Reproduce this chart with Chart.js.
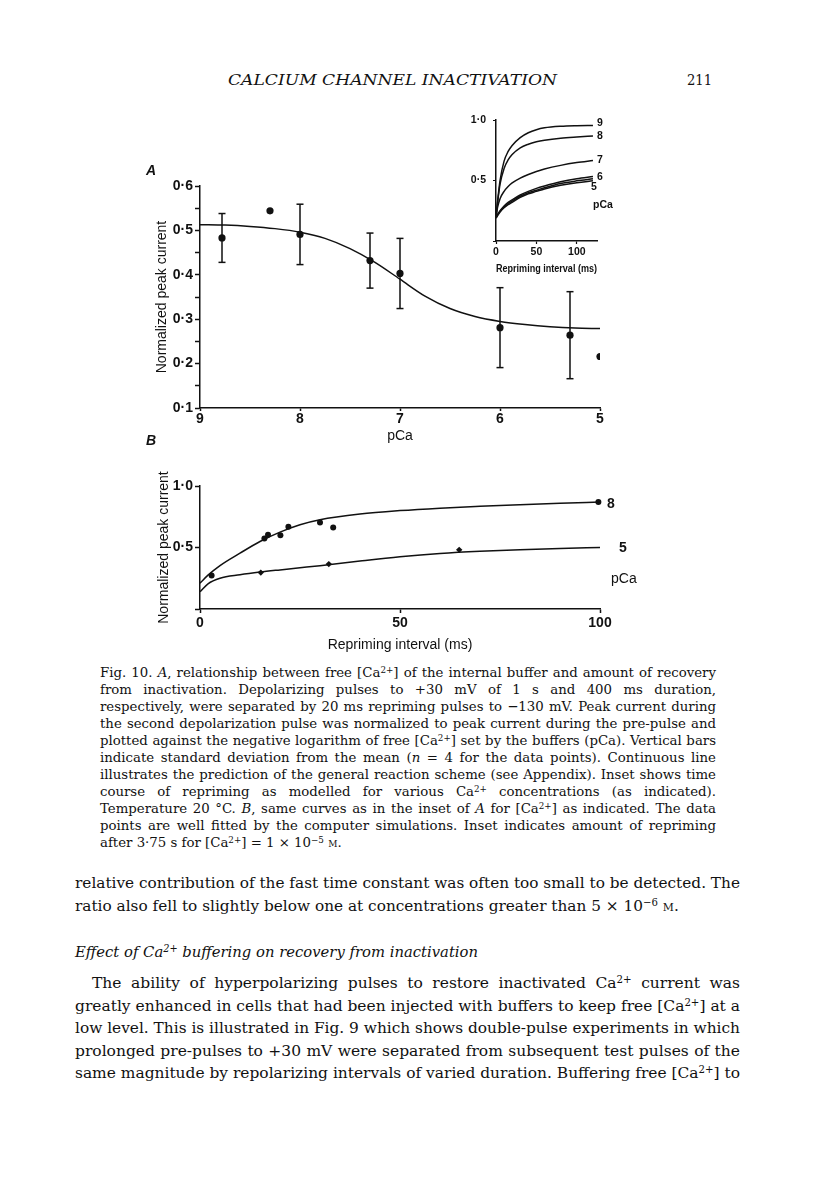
<!DOCTYPE html>
<html><head><meta charset="utf-8">
<script src="https://cdn.jsdelivr.net/npm/chart.js@4.4.1/dist/chart.umd.min.js"></script>
<style>
html,body{margin:0;padding:0;background:#fff;}
body{width:816px;height:1183px;position:relative;overflow:hidden;color:#111;}
canvas{position:absolute;}
.ln{position:absolute;white-space:nowrap;font-family:"DejaVu Serif",serif;transform-origin:0 50%;color:#111;}
sup{font-size:0.66em;vertical-align:0.5em;line-height:0;}
.sc{font-variant:small-caps;}
.lab{position:absolute;font-family:"Liberation Sans",Arial,sans-serif;white-space:nowrap;color:#111;}
</style></head><body>
<canvas id="cA" width="490" height="300" style="left:140px;top:150px"></canvas>
<canvas id="cI" width="170" height="180" style="left:460px;top:105px"></canvas>
<canvas id="cB" width="500" height="190" style="left:140px;top:470px"></canvas>
<script>
// ---------- Panel A data ----------
const aPca  = [8.78, 8.3, 8.0, 7.3, 7.0, 6.0, 5.3, 5.0];
const aMean = [0.483, 0.544, 0.491, 0.432, 0.403, 0.281, 0.264, 0.216];
const aSd   = [0.055, null, 0.068, 0.062, 0.079, 0.090, 0.098, null];
const fitPca = [9, 8.75, 8.5, 8.25, 8, 7.75, 7.5, 7.25, 7, 6.75, 6.5, 6.25, 6, 5.75, 5.5, 5.25, 5];
const fitA   = [0.513, 0.512, 0.509, 0.504, 0.496, 0.482, 0.459, 0.428, 0.390, 0.352, 0.324, 0.306, 0.295, 0.288, 0.283, 0.280, 0.279];
const aXTicks = [9, 8, 7, 6, 5];

// ---------- Inset data ----------
const insetT   = [0, 2, 5, 10, 15, 20, 30, 40, 50, 60, 80, 100, 120];
const inset9   = [0.20, 0.33, 0.50, 0.66, 0.74, 0.79, 0.855, 0.895, 0.92, 0.935, 0.948, 0.953, 0.955];
const inset8   = [0.20, 0.32, 0.47, 0.60, 0.67, 0.715, 0.77, 0.80, 0.82, 0.833, 0.85, 0.86, 0.868];
const inset7   = [0.20, 0.28, 0.35, 0.41, 0.45, 0.48, 0.52, 0.55, 0.575, 0.595, 0.625, 0.648, 0.665];
const inset6   = [0.19, 0.22, 0.25, 0.29, 0.32, 0.34, 0.38, 0.41, 0.435, 0.455, 0.49, 0.515, 0.533];
const inset55  = [0.19, 0.215, 0.245, 0.28, 0.31, 0.33, 0.37, 0.40, 0.42, 0.44, 0.475, 0.497, 0.514];
const inset5   = [0.19, 0.21, 0.24, 0.275, 0.30, 0.32, 0.36, 0.39, 0.41, 0.43, 0.46, 0.482, 0.497];
const insetLabels = ['9', '8', '7', '6', '5', 'pCa'];

// ---------- Panel B data ----------
const bT    = [0, 2, 5, 10, 15, 20, 25, 30, 40, 50, 60, 70, 80, 90, 100];
const bFit8 = [0.21, 0.275, 0.353, 0.454, 0.549, 0.625, 0.685, 0.726, 0.772, 0.80, 0.82, 0.835, 0.848, 0.86, 0.87];
const bFit5 = [0.14, 0.205, 0.25, 0.278, 0.30, 0.318, 0.335, 0.352, 0.39, 0.425, 0.452, 0.47, 0.482, 0.492, 0.50];
const b8T = [2.9, 16.1, 17.0, 20.1, 22.1, 30.0, 33.3, 99.6];
const b8V = [0.272, 0.573, 0.603, 0.600, 0.669, 0.704, 0.663, 0.870];
const b5T = [15.2, 32.2, 64.8];
const b5V = [0.296, 0.365, 0.481];
const bSqT = [102.5];
const bSqV = [0.533];

Chart.defaults.font.family = '"Liberation Sans", Arial, sans-serif';
Chart.defaults.color = '#111';
const INK = '#111';
const dot = v => (Math.round(v * 10) / 10).toFixed(1).replace('.', '\u00B7');
const pts = (xs, ys) => xs.map((x, i) => ({x, y: ys[i]}));
const curve = (xs, ys) => ({data: pts(xs, ys), showLine: true, pointRadius: 0, borderColor: INK, borderWidth: 1.5, cubicInterpolationMode: 'monotone', fill: false});
const baseOpts = (pad) => ({responsive: false, animation: false, devicePixelRatio: 1, layout: {padding: pad},
  plugins: {legend: {display: false}, tooltip: {enabled: false}}});

// error bars built from mean and sd
const errData = [];
aPca.forEach((x, i) => { if (aSd[i] != null) { errData.push({x, y: aMean[i] - aSd[i]}, {x, y: aMean[i] + aSd[i]}, {x, y: null}); } });

// ---------- Chart A ----------
new Chart(document.getElementById('cA'), {
  type: 'scatter',
  data: {datasets: [
    curve(fitPca, fitA),
    {data: errData, showLine: true, spanGaps: false, pointStyle: 'line', pointRadius: 3.5, pointBorderWidth: 1.5, pointBorderColor: INK, borderColor: INK, borderWidth: 1.5},
    {data: pts(aPca, aMean), pointRadius: 3.6, pointBackgroundColor: INK, pointBorderColor: INK, pointBorderWidth: 0}
  ]},
  options: Object.assign(baseOpts({top: 36, right: 30, left: 0, bottom: 0}), {
    scales: {
      x: {type: 'linear', min: 5, max: 9, reverse: true, afterFit: s => { s.height = 42; },
        afterBuildTicks: s => { s.ticks = aXTicks.map(v => ({value: v})); },
        ticks: {padding: 0, font: {size: 14, weight: 'bold'}, color: INK, autoSkip: false, maxRotation: 0, callback: v => String(v)},
        grid: {drawOnChartArea: false, tickLength: 3, tickColor: INK, tickWidth: 1.5},
        border: {color: INK, width: 1.5},
        title: {display: true, text: 'pCa', font: {size: 14}, color: INK, padding: {top: 0, bottom: 5}}},
      y: {type: 'linear', min: 0.1, max: 0.6, afterFit: s => { s.width = 60; },
        ticks: {stepSize: 0.05, padding: 2, autoSkip: false, font: {size: 14, weight: 'bold'}, color: INK,
          callback: v => (Math.round(v * 100) % 10 === 0 ? dot(v) : '')},
        grid: {drawOnChartArea: false, tickLength: 5, tickColor: INK, tickWidth: 1.5},
        border: {color: INK, width: 1.5},
        title: {display: true, text: 'Normalized peak current', font: {size: 14}, color: INK, padding: {top: 14, bottom: 0}}}
    }
  })
});

// ---------- Inset ----------
new Chart(document.getElementById('cI'), {
  type: 'scatter',
  data: {datasets: [inset9, inset8, inset7, inset6, inset55, inset5].map(s => curve(insetT, s))},
  options: Object.assign(baseOpts({top: 15, right: 33, left: 0, bottom: 0}), {
    scales: {
      x: {type: 'linear', min: 0, max: 125, afterFit: s => { s.height = 44; },
        afterBuildTicks: s => { s.ticks = [0, 50, 100].map(v => ({value: v})); },
        ticks: {padding: 2, font: {size: 10.5, weight: 'bold'}, color: INK, autoSkip: false, maxRotation: 0},
        grid: {drawOnChartArea: false, tickLength: 3, tickColor: INK, tickWidth: 1.2},
        border: {color: INK, width: 1.5},
        title: {display: true, text: 'Repriming interval (ms)', font: {size: 10.5, weight: 'bold'}, color: INK, padding: {top: 0, bottom: 10}}},
      y: {type: 'linear', min: 0, max: 1, afterFit: s => { s.width = 36; },
        afterBuildTicks: s => { s.ticks = [0, 0.5, 1].map(v => ({value: v})); },
        ticks: {padding: 7, font: {size: 10.5, weight: 'bold'}, color: INK, autoSkip: false, callback: v => (v === 0 ? '' : dot(v))},
        grid: {drawOnChartArea: false, tickLength: 3, tickColor: INK, tickWidth: 1.2},
        border: {color: INK, width: 1.5}}
    }
  })
});

// ---------- Chart B ----------
new Chart(document.getElementById('cB'), {
  type: 'scatter',
  data: {datasets: [
    curve(bT, bFit8),
    curve(bT, bFit5),
    {data: pts(b8T, b8V), pointRadius: 3, pointBackgroundColor: INK, pointBorderColor: INK, pointBorderWidth: 0, clip: false},
    {data: pts(b5T, b5V), pointRadius: 3.2, pointStyle: 'rectRot', pointBackgroundColor: INK, pointBorderColor: INK, pointBorderWidth: 0, clip: false},
    {data: pts(bSqT, bSqV), pointRadius: 3.2, pointStyle: 'rect', pointBackgroundColor: INK, pointBorderColor: INK, pointBorderWidth: 0, clip: false}
  ]},
  options: Object.assign(baseOpts({top: 16, right: 40, left: 0, bottom: 0}), {
    scales: {
      x: {type: 'linear', min: 0, max: 100, afterFit: s => { s.height = 51; },
        afterBuildTicks: s => { s.ticks = [0, 50, 100].map(v => ({value: v})); },
        ticks: {padding: 2, font: {size: 14, weight: 'bold'}, color: INK, autoSkip: false, maxRotation: 0},
        grid: {drawOnChartArea: false, tickLength: 4, tickColor: INK, tickWidth: 1.5},
        border: {color: INK, width: 1.5},
        title: {display: true, text: 'Repriming interval (ms)', font: {size: 14}, color: INK, padding: {top: 0, bottom: 6}}},
      y: {type: 'linear', min: 0, max: 1, afterFit: s => { s.width = 60; },
        afterBuildTicks: s => { s.ticks = [0, 0.5, 1].map(v => ({value: v})); },
        ticks: {padding: 2, font: {size: 14, weight: 'bold'}, color: INK, autoSkip: false, callback: v => (v === 0 ? '' : dot(v))},
        grid: {drawOnChartArea: false, tickLength: 5, tickColor: INK, tickWidth: 1.5},
        border: {color: INK, width: 1.5},
        title: {display: true, text: 'Normalized peak current', font: {size: 14}, color: INK, padding: {top: 16, bottom: 0}}}
    }
  })
});

// ---------- Labels ----------
function lab(text, left, cy, size, weight, style) {
  const d = document.createElement('div');
  d.className = 'lab';
  d.textContent = text;
  d.style.left = left + 'px';
  d.style.top = (cy - size * 0.6) + 'px';
  d.style.fontSize = size + 'px';
  d.style.lineHeight = (size * 1.2) + 'px';
  d.style.fontWeight = weight || 'normal';
  if (style) d.style.fontStyle = style;
  document.body.appendChild(d);
}
lab('A', 146, 170, 14, 'bold', 'italic');
lab('B', 146, 440, 14, 'bold', 'italic');
const insetLabPos = [[597, 122], [597, 135], [597, 159], [597, 176], [591, 186.5], [593, 204]];
insetLabels.forEach((t, i) => lab(t, insetLabPos[i][0], insetLabPos[i][1], 10.5, 'bold'));
lab('8', 607, 503, 14, 'bold');
lab('5', 619, 547, 14, 'bold');
lab('pCa', 611, 578, 14, 'normal');

// ---------- Text lines ----------
function line(html, left, cy, width, fs, lh, mode, prevScale, extra) {
  const d = document.createElement('div');
  d.className = 'ln';
  d.style.left = left + 'px';
  d.style.top = (cy - lh / 2) + 'px';
  d.style.fontSize = fs + 'px';
  d.style.lineHeight = lh + 'px';
  if (extra) d.style.cssText += extra;
  d.innerHTML = html;
  document.body.appendChild(d);
  const nat = d.getBoundingClientRect().width;
  let sc = 1;
  if (mode === 'justify') {
    if (nat > width) { sc = width / nat; d.style.transform = 'scaleX(' + sc + ')'; }
    else { const n = (d.textContent.match(/ /g) || []).length; if (n) d.style.wordSpacing = ((width - nat) / n) + 'px'; }
  } else if (mode === 'fit') {
    sc = width / nat; d.style.transform = 'scaleX(' + sc + ')';
  } else {
    sc = prevScale && prevScale < 1 ? prevScale : 1;
    if (nat * sc > width) sc = width / nat;
    if (sc < 1) d.style.transform = 'scaleX(' + sc + ')';
  }
  return sc;
}

line('<i>CALCIUM CHANNEL INACTIVATION</i>', 228, 80, 329, 15, 18, 'fit');
line('211', 687, 80, 25, 15, 18, 'fit');

const caption = [
  'Fig. 10. <i>A</i>, relationship between free [Ca<sup>2+</sup>] of the internal buffer and amount of recovery',
  'from inactivation. Depolarizing pulses to +30 mV of 1 s and 400 ms duration,',
  'respectively, were separated by 20 ms repriming pulses to \u2212130 mV. Peak current during',
  'the second depolarization pulse was normalized to peak current during the pre-pulse and',
  'plotted against the negative logarithm of free [Ca<sup>2+</sup>] set by the buffers (pCa). Vertical bars',
  'indicate standard deviation from the mean (<i>n</i> = 4 for the data points). Continuous line',
  'illustrates the prediction of the general reaction scheme (see Appendix). Inset shows time',
  'course of repriming as modelled for various Ca<sup>2+</sup> concentrations (as indicated).',
  'Temperature 20 \u00B0C. <i>B</i>, same curves as in the inset of <i>A</i> for [Ca<sup>2+</sup>] as indicated. The data',
  'points are well fitted by the computer simulations. Inset indicates amount of repriming',
  'after 3\u00B775 s for [Ca<sup>2+</sup>] = 1 \u00D7 10<sup>\u22125</sup> <span class="sc">m</span>.'
];
let s = 1;
caption.forEach((h, i) => { s = line(h, 100, 673 + i * 17, 616, 13.3, 16, i === caption.length - 1 ? 'last' : 'justify', s); });

s = line('relative contribution of the fast time constant was often too small to be detected. The', 75, 883, 665, 15.5, 20, 'justify');
line('ratio also fell to slightly below one at concentrations greater than 5 \u00D7 10<sup>\u22126</sup> <span class="sc">m</span>.', 75, 906, 665, 15.5, 20, 'last', s);
line('<i>Effect of Ca<sup>2+</sup> buffering on recovery from inactivation</i>', 75, 952, 403, 15.5, 20, 'fit');
const para = [
  ['The ability of hyperpolarizing pulses to restore inactivated Ca<sup>2+</sup> current was', 92],
  ['greatly enhanced in cells that had been injected with buffers to keep free [Ca<sup>2+</sup>] at a', 75],
  ['low level. This is illustrated in Fig. 9 which shows double-pulse experiments in which', 75],
  ['prolonged pre-pulses to +30 mV were separated from subsequent test pulses of the', 75],
  ['same magnitude by repolarizing intervals of varied duration. Buffering free [Ca<sup>2+</sup>] to', 75]
];
para.forEach((p, i) => line(p[0], p[1], 983 + i * 22.5, 740 - p[1], 15.5, 20, 'justify'));
</script>
</body></html>
